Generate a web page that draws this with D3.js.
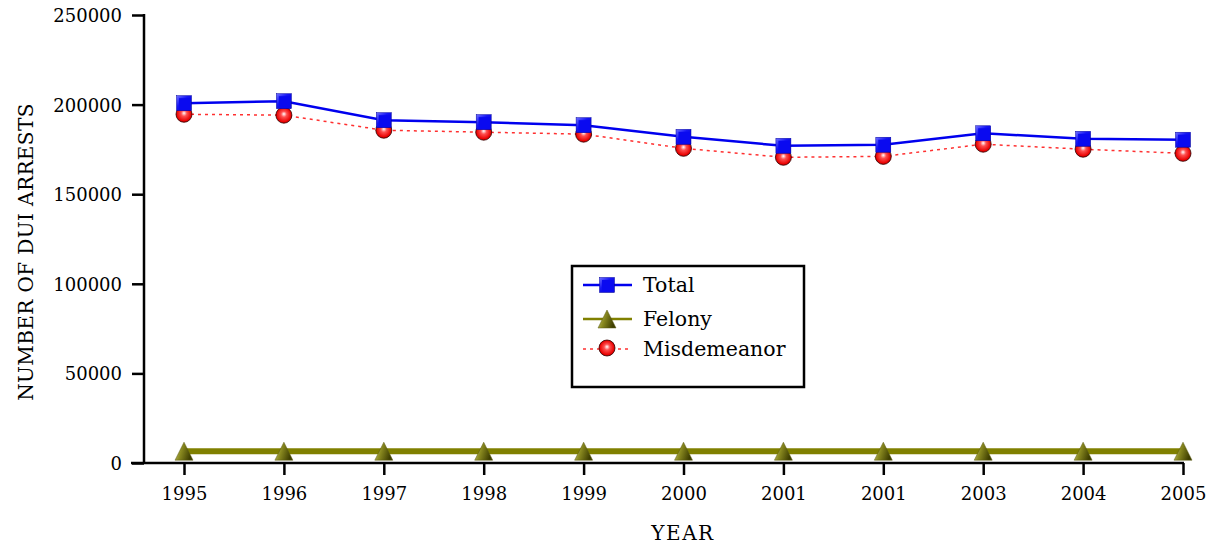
<!DOCTYPE html>
<html><head><meta charset="utf-8">
<script src="https://cdn.jsdelivr.net/npm/d3@7"></script>
<style>body{margin:0;background:#fff}svg{display:block}text{font-family:"DejaVu Serif",serif;fill:#000}</style>
</head><body>
<svg id="c" width="1215" height="550"></svg>
<script>
const years = ["1995","1996","1997","1998","1999","2000","2001","2001","2003","2004","2005"];
const totalVals = [200800,201900,191300,190200,188500,182000,177000,177600,184000,180900,180400];
const felonyVals = [6600,6600,6600,6600,6600,6600,6600,6600,6600,6600,6600];
const misdVals = [194600,194100,185700,184600,183500,175600,170600,171100,177900,175100,172800];
const yTicks = [0,50000,100000,150000,200000,250000];
const seriesNames = ["Total","Felony","Misdemeanor"];

const svg = d3.select("#c");
const defs = svg.append("defs");
const gSq = defs.append("linearGradient").attr("id","gsq").attr("x1","0").attr("y1","0").attr("x2","1").attr("y2","1");
gSq.append("stop").attr("offset","0").attr("stop-color","#7070ff");
gSq.append("stop").attr("offset","0.4").attr("stop-color","#1515f5");
gSq.append("stop").attr("offset","1").attr("stop-color","#0000b0");
const gC = defs.append("radialGradient").attr("id","gci").attr("cx","0.5").attr("cy","0.5").attr("r","0.6").attr("fx","0.5").attr("fy","0.42");
gC.append("stop").attr("offset","0").attr("stop-color","#ffffff");
gC.append("stop").attr("offset","0.3").attr("stop-color","#ff5050");
gC.append("stop").attr("offset","0.75").attr("stop-color","#e80000");
gC.append("stop").attr("offset","1").attr("stop-color","#600000");
const gT = defs.append("linearGradient").attr("id","gtr").attr("x1","0").attr("y1","0").attr("x2","1").attr("y2","0.3");
gT.append("stop").attr("offset","0").attr("stop-color","#d0d080");
gT.append("stop").attr("offset","0.45").attr("stop-color","#8a8a20");
gT.append("stop").attr("offset","1").attr("stop-color","#3e3e00");

const x = d3.scalePoint().domain(d3.range(years.length)).range([184,1183]);
const y = d3.scaleLinear().domain([0,250000]).range([463,15]);

const yAx = svg.append("g").attr("transform","translate(144,0)")
  .call(d3.axisLeft(y).tickValues(yTicks).tickSize(12).tickPadding(10).tickFormat(d3.format("d")));
const xAx = svg.append("g").attr("transform","translate(0,463)")
  .call(d3.axisBottom(x).tickSize(12).tickPadding(12).tickFormat(i=>years[i]));
[yAx,xAx].forEach(a=>{
  a.selectAll("path.domain").remove();
  a.selectAll("line").attr("stroke","#000").attr("stroke-width",2.5);
  a.selectAll("text").style("font-family","DejaVu Serif").style("font-size","18px").attr("fill","#000");
});
yAx.selectAll("text").attr("dy","0.36em");
svg.append("line").attr("x1",144).attr("x2",144).attr("y1",y(250000)-1).attr("y2",y(0)).attr("stroke","#000").attr("stroke-width",2.5);
svg.append("line").attr("x1",131).attr("x2",x(10)+1).attr("y1",y(0)).attr("y2",y(0)).attr("stroke","#000").attr("stroke-width",2.5);

svg.append("text").attr("x",683).attr("y",540).attr("text-anchor","middle").style("font-size","20px").style("letter-spacing","1.5px").text("YEAR");
svg.append("text").attr("transform","translate(33,252) rotate(-90)").attr("text-anchor","middle").style("font-size","20px").style("letter-spacing","0.4px").text("NUMBER OF DUI ARRESTS");

function sq(g,cx,cy){
  g.append("rect").attr("x",cx-7.5).attr("y",cy-7.5).attr("width",15).attr("height",15).attr("fill","url(#gsq)").attr("stroke","#0000a0").attr("stroke-width",0.5);
  g.append("rect").attr("x",cx-5).attr("y",cy-5).attr("width",12).attr("height",12).attr("fill","#0a0af0");
}
function ci(g,cx,cy){g.append("circle").attr("cx",cx).attr("cy",cy).attr("r",8).attr("fill","url(#gci)").attr("stroke","#300").attr("stroke-width",0.8);}
function tr(g,cx,cy){g.append("path").attr("d",`M${cx},${cy-9}L${cx+9},${cy+9}L${cx-9},${cy+9}Z`).attr("fill","url(#gtr)").attr("stroke","#5a5a10").attr("stroke-width",0.5);}

const line = d3.line().x((d,i)=>x(i)).y(d=>y(d));
svg.append("path").datum(felonyVals).attr("d",line).attr("fill","none").attr("stroke","#808000").attr("stroke-width",6);
svg.append("path").datum(misdVals).attr("d",line).attr("fill","none").attr("stroke","#ff3030").attr("stroke-width",1.5).attr("stroke-dasharray","3,4");
svg.append("path").datum(totalVals).attr("d",line).attr("fill","none").attr("stroke","#0000ee").attr("stroke-width",2.5);

const mk = svg.append("g");
misdVals.forEach((v,i)=>ci(mk,x(i),y(v)));
totalVals.forEach((v,i)=>sq(mk,x(i),y(v)));
felonyVals.forEach((v,i)=>tr(mk,x(i),y(v)));

const lg = svg.append("g");
lg.append("rect").attr("x",572).attr("y",266).attr("width",232).attr("height",121).attr("fill","#fff").attr("stroke","#000").attr("stroke-width",2.5);
const rows = [285,319,349];
lg.append("line").attr("x1",583).attr("x2",632).attr("y1",rows[0]).attr("y2",rows[0]).attr("stroke","#0000ee").attr("stroke-width",2.5);
sq(lg,607,rows[0]);
lg.append("line").attr("x1",583).attr("x2",632).attr("y1",rows[1]).attr("y2",rows[1]).attr("stroke","#808000").attr("stroke-width",2.5);
tr(lg,607,rows[1]);
lg.append("line").attr("x1",583).attr("x2",632).attr("y1",rows[2]).attr("y2",rows[2]).attr("stroke","#ff3030").attr("stroke-width",1.5).attr("stroke-dasharray","3,4");
ci(lg,607,rows[2]-1);
seriesNames.forEach((n,i)=>lg.append("text").attr("x",643).attr("y",rows[i]+7).style("font-size","20.5px").text(n));
</script>
</body></html>
